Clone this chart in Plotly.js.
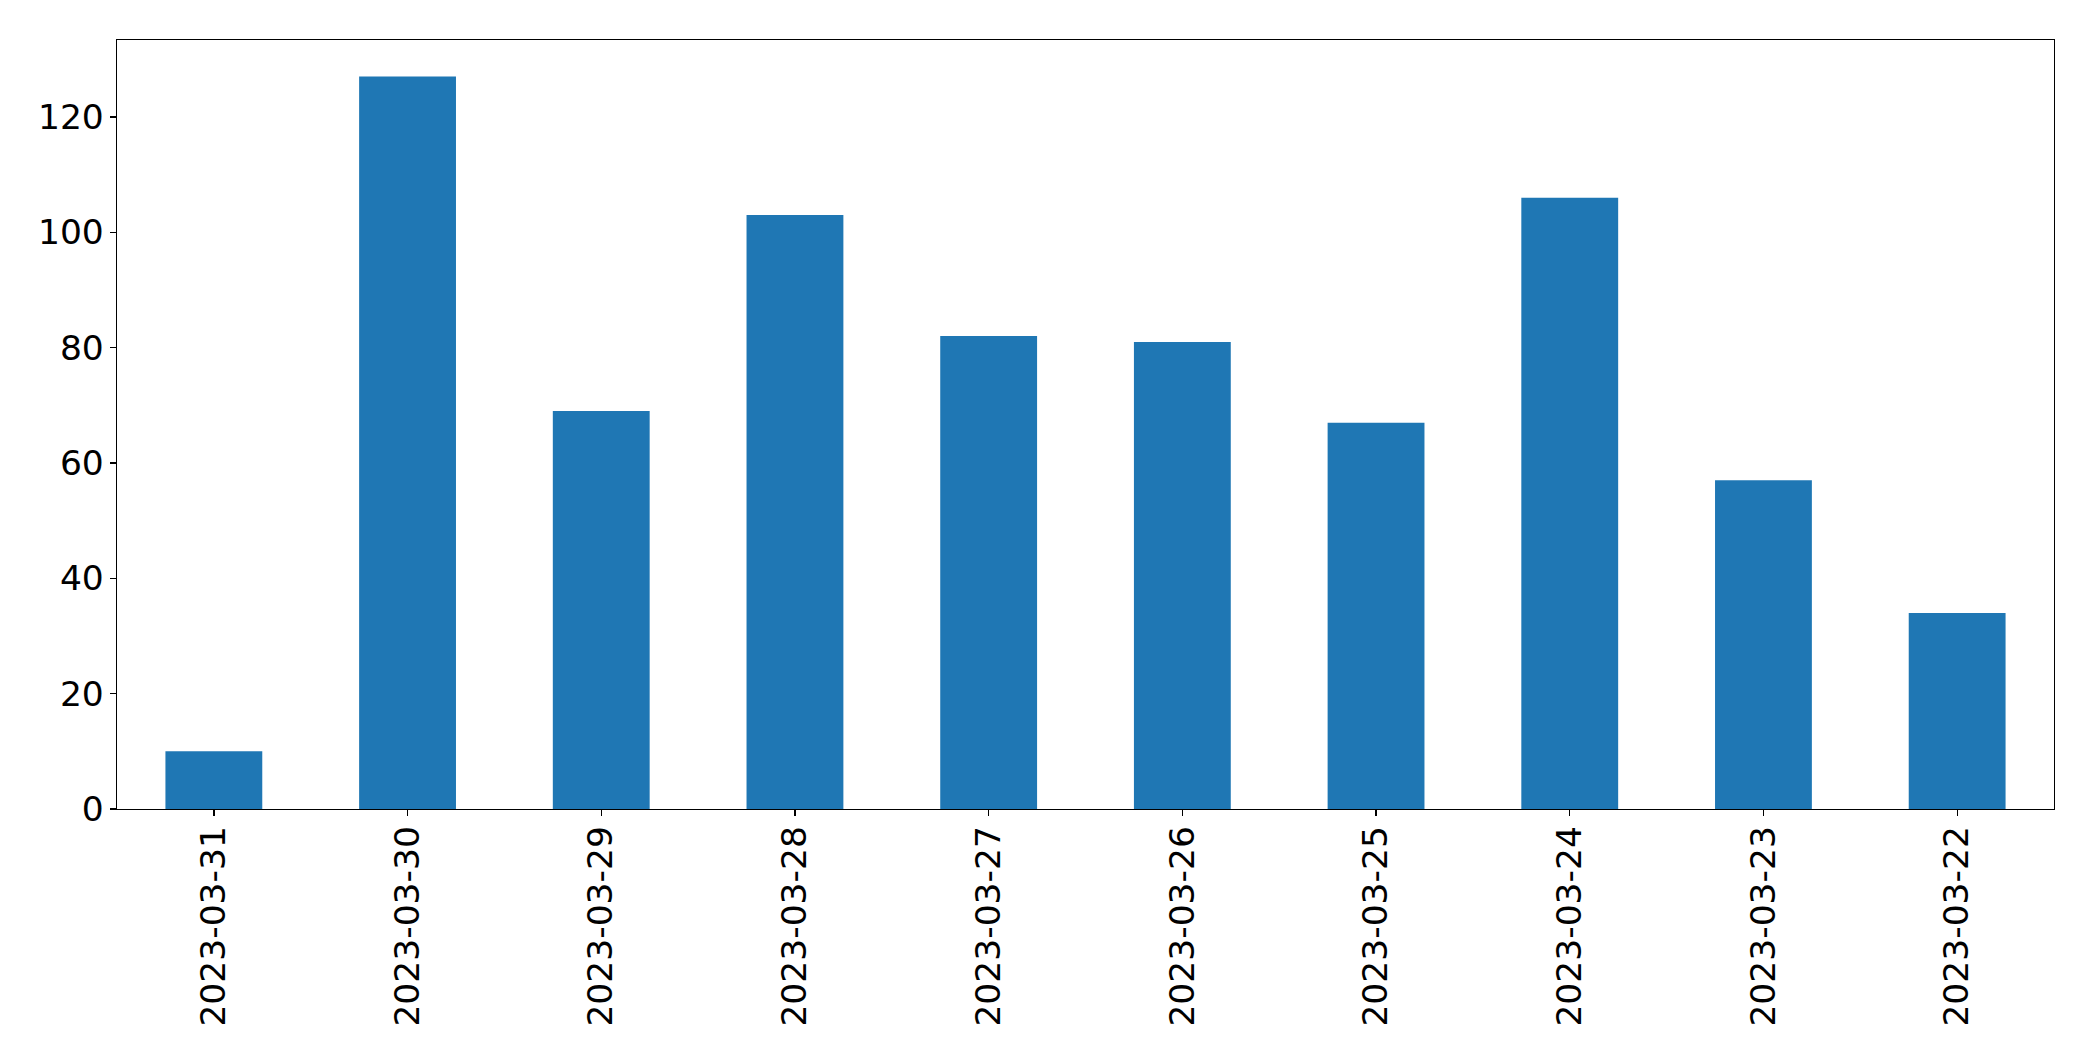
<!DOCTYPE html>
<html>
<head>
<meta charset="utf-8">
<script src="https://cdn.plot.ly/plotly-3.0.1.min.js"></script>
<style>html,body{margin:0;padding:0;background:#fff;}#chart{width:2093px;height:1061px;}</style>
</head>
<body>
<div id="chart"></div>
<script>
const dates = ["2023-03-31","2023-03-30","2023-03-29","2023-03-28","2023-03-27","2023-03-26","2023-03-25","2023-03-24","2023-03-23","2023-03-22"];
const counts = [10, 127, 69, 103, 82, 81, 67, 106, 57, 34];
const yTicks = [0, 20, 40, 60, 80, 100, 120];

const font = {family: "DejaVu Sans", size: 34.5, color: "#000"};
Plotly.newPlot("chart", [{
  type: "bar",
  x: dates,
  y: counts,
  width: 0.5,
  marker: {color: "#1f77b4", line: {width: 0}},
  hoverinfo: "x+y"
}], {
  width: 2093, height: 1061,
  margin: {l: 116.5, r: 38.7, t: 39.5, b: 252, pad: 0},
  paper_bgcolor: "#fff", plot_bgcolor: "#fff",
  showlegend: false,
  xaxis: {
    type: "category",
    range: [-0.5, 9.5],
    tickangle: -90,
    ticks: "outside", ticklen: 6, tickwidth: 1.3, tickcolor: "#000",
    ticklabelstandoff: -4,
    showline: true, linecolor: "#000", linewidth: 1.3, mirror: true,
    showgrid: false, zeroline: false,
    tickfont: font
  },
  yaxis: {
    range: [0, 133.35],
    tickvals: yTicks,
    ticktext: yTicks.map(String),
    ticks: "outside", ticklen: 6, tickwidth: 1.3, tickcolor: "#000",
    ticklabelstandoff: -1,
    showline: true, linecolor: "#000", linewidth: 1.3, mirror: true,
    showgrid: false, zeroline: false,
    tickfont: font
  }
}, {displayModeBar: false, staticPlot: true});
</script>
</body>
</html>
